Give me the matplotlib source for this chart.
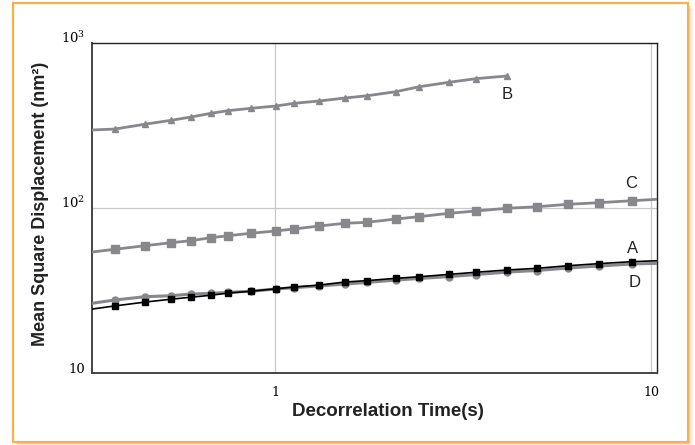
import matplotlib
matplotlib.use('Agg')
import matplotlib.pyplot as plt
from matplotlib.patches import Rectangle

# decorrelation times (s); first/last entries sit on the axis edges
t_b = [0.326, 0.375, 0.451, 0.529, 0.598, 0.676, 0.750, 0.863, 1.006, 1.123,
       1.309, 1.535, 1.757, 2.098, 2.415, 2.903, 3.423, 4.14]
msd_b = [297, 301, 322, 340, 356, 375, 389, 402, 415, 431,
         445, 464, 479, 507, 543, 578, 608, 631]

t_acd = [0.326, 0.375, 0.451, 0.529, 0.598, 0.676, 0.750, 0.863, 1.006, 1.123,
         1.309, 1.535, 1.757, 2.098, 2.415, 2.903, 3.423, 4.14, 4.97, 6.02,
         7.27, 8.90, 10.37]
msd_c = [54.1, 56.2, 59.1, 61.6, 63.4, 66.1, 67.9, 70.3, 72.6, 74.6,
         77.8, 80.8, 81.9, 85.8, 88.6, 92.9, 95.9, 99.6, 101.8, 105.3,
         107.7, 110.7, 112.9]
msd_a = [24.4, 25.5, 26.9, 28.0, 28.8, 29.6, 30.5, 31.3, 32.4, 33.2,
         34.1, 35.6, 36.3, 37.5, 38.3, 39.6, 40.8, 42.1, 43.1, 44.7,
         46.0, 47.3, 47.9]
msd_d = [26.45, 27.7, 29.0, 29.4, 30.1, 30.4, 30.8, 31.3, 32.3, 32.9,
         33.7, 34.6, 35.4, 36.6, 37.4, 38.4, 39.5, 40.9, 41.8, 43.3,
         44.5, 45.8, 46.2]

GRAY = '#88878c'

plt.rcParams['font.family'] = ['Liberation Sans', 'DejaVu Sans']
plt.rcParams['mathtext.fontset'] = 'dejavuserif'

fig = plt.figure(figsize=(6.95, 4.45), dpi=100)

# drop shadow + orange frame
W, H = 695.0, 445.0
for i, a in enumerate([0.09, 0.07, 0.05, 0.035, 0.02]):
    d = 1 + i * 1.2
    fig.patches.append(Rectangle(((12.5 + d) / W, (H - 441.7 - d) / H),
                                 (688 - 12.5) / W, (441.7 - 3) / H,
                                 transform=fig.transFigure, facecolor='black',
                                 edgecolor='none', alpha=a, zorder=0))
fig.patches.append(Rectangle((12.5 / W, (H - 441.7) / H), (688 - 12.5) / W, (441.7 - 3) / H,
                             transform=fig.transFigure, facecolor='white',
                             edgecolor='#f7b04a', linewidth=1.6, zorder=1))

ax = fig.add_axes([92 / W, 1 - 373 / H, (657 - 92) / W, (373 - 43) / H])
ax.set_zorder(2)
ax.set_xscale('log')
ax.set_yscale('log')
ax.set_xlim(0.326, 10.37)
ax.set_ylim(10, 1000)

for v in [1, 10]:
    ax.axvline(v, color='#c8c8c8', linewidth=0.9, zorder=0)
ax.axhline(100, color='#c8c8c8', linewidth=0.9, zorder=0)

mk = slice(1, -1)
ax.plot(t_b, msd_b, color=GRAY, linewidth=2.0, marker='^', markersize=5,
        markevery=slice(1, None), zorder=3)
ax.plot(t_acd, msd_c, color=GRAY, linewidth=2.0, marker='s', markersize=5.5,
        markevery=mk, zorder=3)
ax.plot(t_acd, msd_d, color=GRAY, linewidth=2.2, marker='o', markersize=5,
        markevery=mk, zorder=3)
ax.plot(t_acd, msd_a, color='black', linewidth=1.2, marker='s', markersize=4.3,
        markevery=mk, zorder=4)

lab_kw = dict(textcoords='offset pixels', ha='center', va='center',
              fontsize=12, color='#222222')
ax.annotate('B', (t_b[-1], msd_b[-1]), xytext=(0, -19), **lab_kw)
ax.annotate('C', (t_acd[-2], msd_c[-2]), xytext=(-1, 17), **lab_kw)
ax.annotate('A', (t_acd[-2], msd_a[-2]), xytext=(0, 13), **lab_kw)
ax.annotate('D', (t_acd[-2], msd_d[-2]), xytext=(3, -19), **lab_kw)

ax.set_xticks([1, 10])
ax.set_xticklabels(['1', '10'], family='DejaVu Serif', fontsize=9)
ax.set_yticks([10, 100, 1000])
ax.set_yticklabels(['10', '$10^2$', '$10^3$'], family='DejaVu Serif', fontsize=9.5,
                   va='baseline')
ax.minorticks_off()
ax.tick_params(axis='x', length=0, pad=9)
ax.tick_params(axis='y', length=0, pad=5)

for s in ax.spines.values():
    s.set_color('#222222')
    s.set_linewidth(1.0)
ax.spines['left'].set_color('#444444')
ax.spines['bottom'].set_color('#444444')
ax.spines['left'].set_linewidth(1.4)
ax.spines['bottom'].set_linewidth(1.4)

fig.text(388 / W, 1 - 412 / H, 'Decorrelation Time(s)', ha='center', va='center',
         fontsize=13.5, fontweight='bold', color='#222222')
fig.text(41 / W, 1 - 204 / H, 'Mean Square Displacement (nm²)', ha='center', va='center',
         rotation=90, fontsize=13, fontweight='bold', color='#222222')

fig.savefig('out.png', dpi=100)
